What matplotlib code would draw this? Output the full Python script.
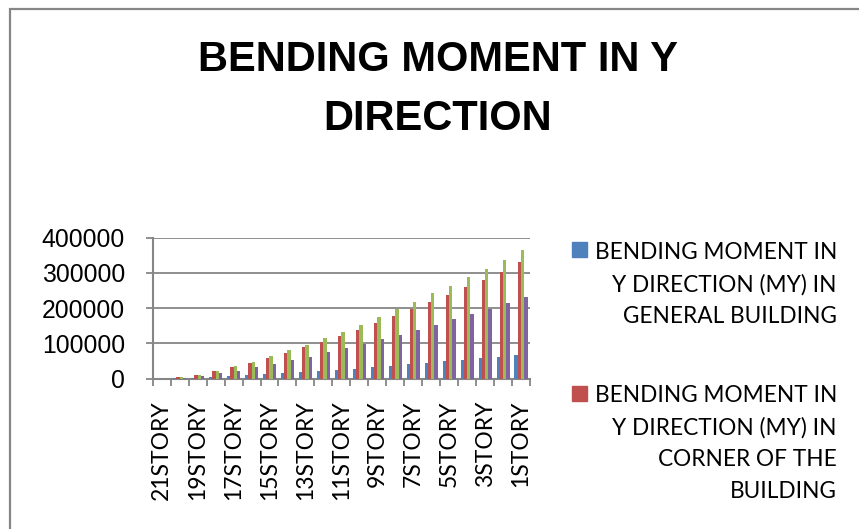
import numpy as np
from matplotlib import pyplot as plt
from matplotlib.patches import Rectangle

stories = ['21STORY', '20STORY', '19STORY', '18STORY', '17STORY', '16STORY', '15STORY',
           '14STORY', '13STORY', '12STORY', '11STORY', '10STORY', '9STORY', '8STORY',
           '7STORY', '6STORY', '5STORY', '4STORY', '3STORY', '2STORY', '1STORY']
general = [0, 500, 1000, 4700, 7600, 9400, 12300, 15100, 17900, 21700, 23600,
           27400, 33000, 36800, 40600, 44300, 50000, 53800, 58500, 61300, 67000]
corner = [0, 3800, 11300, 20800, 32100, 44400, 57600, 71700, 88700, 103800, 120000,
          138700, 156600, 176400, 196200, 217000, 237700, 259400, 281100, 302800, 330200]
series3 = [0, 3800, 11300, 22700, 34900, 47200, 64200, 80200, 96300, 115200, 132000,
           152800, 174500, 196200, 218000, 241500, 263200, 288700, 312300, 336800, 364200]
series4 = [0, 2000, 7500, 15100, 22700, 32100, 42500, 51900, 62300, 74600, 86000,
           98000, 111300, 123600, 138700, 152800, 168000, 184000, 198100, 215000, 232000]
yticks = [0, 100000, 200000, 300000, 400000]
title = 'BENDING MOMENT IN Y\nDIRECTION'
legend_labels = ['BENDING MOMENT IN\nY DIRECTION (MY) IN\nGENERAL BUILDING',
                 'BENDING MOMENT IN\nY DIRECTION (MY) IN\nCORNER OF THE\nBUILDING']

colors = ['#4F81BD', '#C0504D', '#9BBB59', '#8064A2']
grey = '#868686'
W, H = 859, 529

fig = plt.figure(figsize=(W/100, H/100), dpi=100)
ax = fig.add_axes([152.7/W, 1-378.5/H, (530-152.7)/W, (378.5-237.7)/H])

x = np.arange(len(stories))
w = 1/5.5
for i, (vals, c) in enumerate(zip([general, corner, series3, series4], colors)):
    ax.bar(x + (i-1.5)*w, vals, w, color=c, zorder=3)

ax.set_xlim(-0.5, len(stories)-0.5)
ax.set_ylim(0, 400000)
ax.set_yticks(yticks)
ax.set_yticklabels([str(v) for v in yticks], family='Liberation Sans', fontsize=17.8)
ax.set_xticks(x[::2])
ax.set_xticklabels(stories[::2], rotation=90, family='Lato', fontsize=16.5, va='top')
ax.set_xticks(np.arange(-0.5, len(stories)), minor=True)
ax.tick_params(axis='x', which='major', length=0, pad=16)
ax.tick_params(axis='x', which='minor', length=5, width=1.3, color=grey)
ax.tick_params(axis='y', length=5, width=1.3, color=grey, pad=15)
ax.grid(axis='y', color=grey, linewidth=1.3, zorder=0)
ax.set_axisbelow(True)
for s in ['top', 'right']:
    ax.spines[s].set_visible(False)
for s in ['left', 'bottom']:
    ax.spines[s].set_color(grey)
    ax.spines[s].set_linewidth(1.5)

fig.text(437.5/W, 1-40/H, title, ha='center', va='top', fontsize=30,
         fontweight='bold', family='Liberation Sans', linespacing=1.62)

# legend drawn by hand, only the first two entries are visible in the original
for lab, c, ytop in zip(legend_labels, colors[:2], [242, 385.5]):
    fig.add_artist(Rectangle((572/W, 1-(ytop+15)/H), 15/W, 15/H, color=c,
                             transform=fig.transFigure))
    fig.text(837/W, 1-ytop/H, lab, ha='right', va='top', multialignment='right',
             fontsize=16.3, family='Lato', linespacing=1.62)

fig.add_artist(Rectangle((10/W, -0.1), 1.2, 1.1-9/H, fill=False, edgecolor=grey,
                         linewidth=1.6, transform=fig.transFigure))

fig.savefig('out.png', dpi=100)
